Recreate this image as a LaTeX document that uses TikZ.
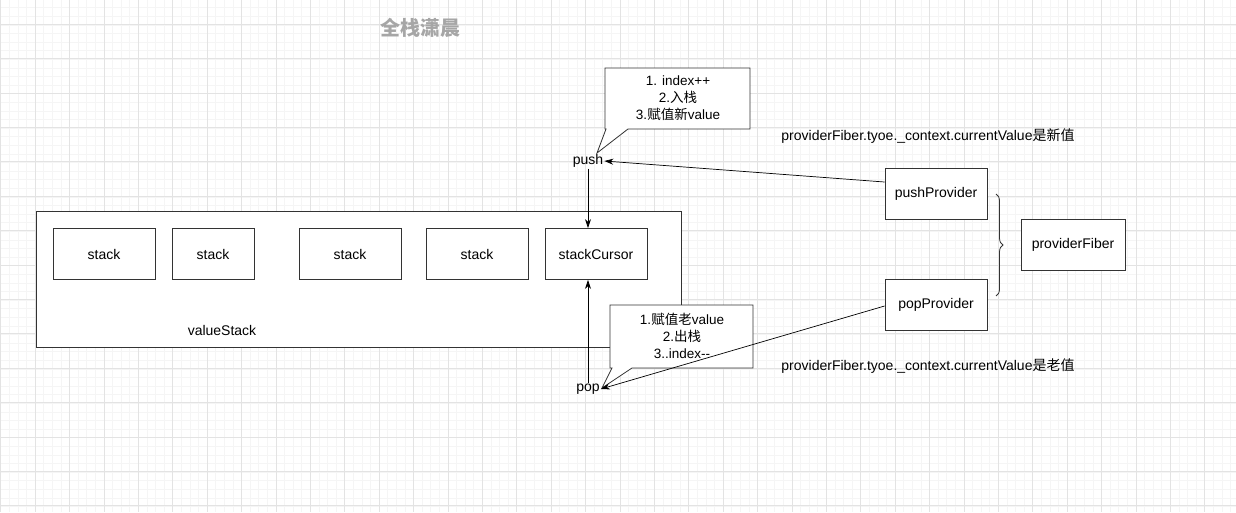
\documentclass[tikz,border=0pt]{standalone}
\usepackage{fontspec}
\setmainfont{Liberation Sans}
\newfontfamily\cjk{Noto Sans CJK SC}
\usetikzlibrary{decorations.pathreplacing,arrows.meta}
\begin{document}
\begin{tikzpicture}[x=1pt,y=-1pt,font=\fontsize{14}{17}\selectfont,
  box/.style={draw=black!80,line width=0.9pt,fill=white,minimum width=#1,minimum height=51,inner sep=0},
  box/.default=102,
  arr/.style={-{Stealth[length=9pt,width=6pt]},line width=0.7pt},
  call/.style={draw=black!80,line width=0.8pt,fill=white}]
\fill[white] (0,0) rectangle (1236,512);
\useasboundingbox (0,0) rectangle (1236,512);
\foreach \i in {0,...,145} \draw[black!4,line width=0.5pt] ({0.6+\i*8.6},0) -- ({0.6+\i*8.6},512);
\foreach \i in {0,...,60} \draw[black!4,line width=0.5pt] (0,{-1+\i*8.6}) -- (1236,{-1+\i*8.6});
\foreach \i in {0,...,36} \draw[black!11,line width=0.6pt] ({0.6+\i*34.4},0) -- ({0.6+\i*34.4},512);
\foreach \i in {0,...,15} \draw[black!11,line width=0.6pt] (0,{-10.4+\i*34.4}) -- (1236,{-10.4+\i*34.4});

\node[text=black!35,font=\fontsize{20}{22}\cjk\bfseries] (title) at (420,28) {全栈潇晨};

\node[box=645,minimum height=136,anchor=north west] (vs) at (36,211) {};
\node (vsl) at (222,330) {valueStack};
\node[box] (s1) at (104,254) {stack};
\node[box=82] (s2) at (213,254) {stack};
\node[box] (s3) at (350,254) {stack};
\node[box] (s4) at (477,254) {stack};
\node[box] (sc) at (596,254) {stackCursor};

\node[inner sep=1] (push) at (588,161) {push};
\node[inner sep=1] (pop) at (588,389) {pop};

\draw[call] (605,68) -- (750,68) -- (750,129) -- (628,129) -- (597,153) -- (606,129) -- (605,129) -- cycle;
\node[align=center,font=\fontsize{13.5}{17}\selectfont] (c1) at (678,98) {1. index++\\2.{\cjk 入栈}\\3.{\cjk 赋值新}value};
\draw[call] (610,305) -- (753,305) -- (753,368) -- (632,368) -- (602,388) -- (612,368) -- (610,368) -- cycle;
\node[align=center,font=\fontsize{13.5}{17}\selectfont] (c2) at (682,336) {1.{\cjk 赋值老}value\\2.{\cjk 出栈}\\3..index{-}{-}};

\node[box] (pp) at (936,194) {pushProvider};
\node[box] (pop2) at (936,305) {popProvider};
\node[box=104] (pf) at (1073,245) {providerFiber};

\draw[line width=0.8pt,black!80,decorate,decoration={brace,amplitude=7pt}] (996,194) -- (996,296);

\draw[arr] (push.south) -- (push.south|-sc.north);
\draw[arr] (pop.north) -- (pop.north|-sc.south);
\draw[arr] (pp.west|-0,182) -- (push.east);
\draw[arr] (pop2.west|-0,306) -- (pop.east);

\node (t1) at (928,136) {providerFiber.tyoe.\_context.currentValue{\cjk 是新值}};
\node (t2) at (928,366) {providerFiber.tyoe.\_context.currentValue{\cjk 是老值}};
\end{tikzpicture}
\end{document}
